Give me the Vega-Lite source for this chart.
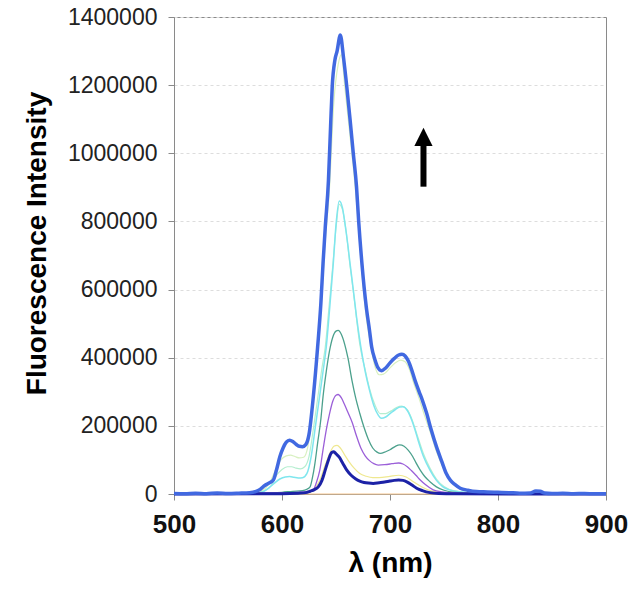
{
"$schema":"https://vega.github.io/schema/vega-lite/v6.json",
"width":432,"height":477,
"autosize":{"type":"none"},
"padding":{"left":174,"top":17,"right":26,"bottom":95},
"background":"white",
"config":{"view":{"stroke":"#8a8a8a","strokeWidth":1},"font":"Liberation Sans"},
"datasets":{
"curves":[
{"s":"s1","x":500,"y":0},{"s":"s1","x":580,"y":0},{"s":"s1","x":640,"y":0},{"s":"s1","x":700,"y":0},{"s":"s1","x":760,"y":0},{"s":"s1","x":900,"y":0},
{"s":"s2","x":500,"y":0},{"s":"s2","x":575,"y":3000},{"s":"s2","x":582,"y":10000},{"s":"s2","x":588,"y":30000},{"s":"s2","x":594,"y":70000},{"s":"s2","x":599,"y":100000},{"s":"s2","x":604,"y":112000},{"s":"s2","x":608,"y":114000},{"s":"s2","x":612,"y":110000},{"s":"s2","x":616,"y":106000},{"s":"s2","x":620,"y":108000},{"s":"s2","x":624,"y":140000},{"s":"s2","x":628,"y":250000},{"s":"s2","x":632,"y":400000},{"s":"s2","x":636,"y":540000},{"s":"s2","x":640,"y":740000},{"s":"s2","x":644,"y":900000},{"s":"s2","x":648,"y":1150000},{"s":"s2","x":652,"y":1260000},{"s":"s2","x":655,"y":1290000},{"s":"s2","x":658,"y":1200000},{"s":"s2","x":662,"y":1080000},{"s":"s2","x":666,"y":960000},{"s":"s2","x":670,"y":820000},{"s":"s2","x":674,"y":650000},{"s":"s2","x":678,"y":520000},{"s":"s2","x":682,"y":440000},{"s":"s2","x":686,"y":375000},{"s":"s2","x":690,"y":350000},{"s":"s2","x":694,"y":352000},{"s":"s2","x":700,"y":370000},{"s":"s2","x":705,"y":385000},{"s":"s2","x":710,"y":393000},{"s":"s2","x":714,"y":388000},{"s":"s2","x":718,"y":365000},{"s":"s2","x":722,"y":325000},{"s":"s2","x":727,"y":280000},{"s":"s2","x":732,"y":230000},{"s":"s2","x":738,"y":175000},{"s":"s2","x":743,"y":125000},{"s":"s2","x":748,"y":85000},{"s":"s2","x":753,"y":55000},{"s":"s2","x":760,"y":25000},{"s":"s2","x":770,"y":10000},{"s":"s2","x":790,"y":4000},{"s":"s2","x":900,"y":500},
{"s":"s3","x":500,"y":0},{"s":"s3","x":575,"y":2000},{"s":"s3","x":582,"y":7000},{"s":"s3","x":590,"y":25000},{"s":"s3","x":595,"y":55000},{"s":"s3","x":600,"y":72000},{"s":"s3","x":605,"y":80000},{"s":"s3","x":609,"y":80000},{"s":"s3","x":613,"y":76000},{"s":"s3","x":617,"y":74000},{"s":"s3","x":621,"y":80000},{"s":"s3","x":625,"y":110000},{"s":"s3","x":629,"y":190000},{"s":"s3","x":633,"y":280000},{"s":"s3","x":637,"y":370000},{"s":"s3","x":640,"y":430000},{"s":"s3","x":643,"y":530000},{"s":"s3","x":647,"y":670000},{"s":"s3","x":650,"y":780000},{"s":"s3","x":653,"y":850000},{"s":"s3","x":656,"y":835000},{"s":"s3","x":659,"y":780000},{"s":"s3","x":663,"y":670000},{"s":"s3","x":667,"y":570000},{"s":"s3","x":672,"y":440000},{"s":"s3","x":677,"y":365000},{"s":"s3","x":681,"y":310000},{"s":"s3","x":686,"y":262000},{"s":"s3","x":691,"y":236000},{"s":"s3","x":696,"y":236000},{"s":"s3","x":701,"y":244000},{"s":"s3","x":706,"y":254000},{"s":"s3","x":711,"y":258000},{"s":"s3","x":716,"y":248000},{"s":"s3","x":720,"y":222000},{"s":"s3","x":726,"y":165000},{"s":"s3","x":731,"y":118000},{"s":"s3","x":737,"y":76000},{"s":"s3","x":743,"y":44000},{"s":"s3","x":750,"y":22000},{"s":"s3","x":760,"y":9000},{"s":"s3","x":780,"y":3000},{"s":"s3","x":900,"y":500},
{"s":"s4","x":500,"y":0},{"s":"s4","x":610,"y":2000},{"s":"s4","x":625,"y":5000},{"s":"s4","x":630,"y":15000},{"s":"s4","x":635,"y":40000},{"s":"s4","x":640,"y":85000},{"s":"s4","x":645,"y":125000},{"s":"s4","x":648,"y":140000},{"s":"s4","x":651,"y":143000},{"s":"s4","x":654,"y":135000},{"s":"s4","x":658,"y":115000},{"s":"s4","x":662,"y":95000},{"s":"s4","x":667,"y":75000},{"s":"s4","x":672,"y":60000},{"s":"s4","x":678,"y":52000},{"s":"s4","x":684,"y":48000},{"s":"s4","x":690,"y":48000},{"s":"s4","x":700,"y":52000},{"s":"s4","x":708,"y":55000},{"s":"s4","x":715,"y":50000},{"s":"s4","x":722,"y":35000},{"s":"s4","x":730,"y":20000},{"s":"s4","x":738,"y":9000},{"s":"s4","x":750,"y":3000},{"s":"s4","x":900,"y":0},
{"s":"s5","x":500,"y":0},{"s":"s5","x":560,"y":500},{"s":"s5","x":575,"y":2000},{"s":"s5","x":582,"y":6000},{"s":"s5","x":588,"y":18000},{"s":"s5","x":593,"y":32000},{"s":"s5","x":598,"y":44000},{"s":"s5","x":603,"y":50000},{"s":"s5","x":607,"y":51000},{"s":"s5","x":611,"y":49000},{"s":"s5","x":615,"y":47000},{"s":"s5","x":619,"y":48000},{"s":"s5","x":623,"y":60000},{"s":"s5","x":627,"y":110000},{"s":"s5","x":631,"y":200000},{"s":"s5","x":635,"y":290000},{"s":"s5","x":638,"y":360000},{"s":"s5","x":641,"y":432000},{"s":"s5","x":644,"y":540000},{"s":"s5","x":647.5,"y":677000},{"s":"s5","x":650,"y":790000},{"s":"s5","x":653,"y":860000},{"s":"s5","x":656,"y":840000},{"s":"s5","x":658,"y":800000},{"s":"s5","x":661,"y":730000},{"s":"s5","x":663,"y":677000},{"s":"s5","x":666,"y":600000},{"s":"s5","x":669,"y":520000},{"s":"s5","x":673,"y":432000},{"s":"s5","x":677,"y":360000},{"s":"s5","x":681,"y":305000},{"s":"s5","x":685,"y":260000},{"s":"s5","x":689,"y":232000},{"s":"s5","x":692,"y":222000},{"s":"s5","x":696,"y":226000},{"s":"s5","x":700,"y":236000},{"s":"s5","x":705,"y":248000},{"s":"s5","x":709,"y":255000},{"s":"s5","x":712,"y":256000},{"s":"s5","x":716,"y":245000},{"s":"s5","x":720,"y":218000},{"s":"s5","x":723,"y":190000},{"s":"s5","x":726,"y":158000},{"s":"s5","x":731,"y":110000},{"s":"s5","x":737,"y":70000},{"s":"s5","x":743,"y":40000},{"s":"s5","x":749,"y":21000},{"s":"s5","x":755,"y":12000},{"s":"s5","x":765,"y":6000},{"s":"s5","x":780,"y":3000},{"s":"s5","x":800,"y":2000},{"s":"s5","x":830,"y":1000},{"s":"s5","x":900,"y":500},
{"s":"s6","x":500,"y":0},{"s":"s6","x":570,"y":1000},{"s":"s6","x":590,"y":3000},{"s":"s6","x":600,"y":5000},{"s":"s6","x":610,"y":8000},{"s":"s6","x":619,"y":10000},{"s":"s6","x":623,"y":14000},{"s":"s6","x":626,"y":21000},{"s":"s6","x":628,"y":45000},{"s":"s6","x":630.5,"y":90000},{"s":"s6","x":633,"y":150000},{"s":"s6","x":636,"y":220000},{"s":"s6","x":638,"y":286000},{"s":"s6","x":641,"y":360000},{"s":"s6","x":644,"y":420000},{"s":"s6","x":647,"y":460000},{"s":"s6","x":650,"y":478000},{"s":"s6","x":652,"y":480000},{"s":"s6","x":655,"y":468000},{"s":"s6","x":658,"y":440000},{"s":"s6","x":661,"y":400000},{"s":"s6","x":665,"y":330000},{"s":"s6","x":668,"y":285000},{"s":"s6","x":672,"y":237000},{"s":"s6","x":676,"y":195000},{"s":"s6","x":680,"y":160000},{"s":"s6","x":684,"y":135000},{"s":"s6","x":688,"y":123000},{"s":"s6","x":691,"y":119000},{"s":"s6","x":696,"y":124000},{"s":"s6","x":700,"y":130000},{"s":"s6","x":705,"y":140000},{"s":"s6","x":709,"y":144000},{"s":"s6","x":713,"y":140000},{"s":"s6","x":717,"y":128000},{"s":"s6","x":721,"y":110000},{"s":"s6","x":724,"y":92000},{"s":"s6","x":728,"y":70000},{"s":"s6","x":732,"y":52000},{"s":"s6","x":737,"y":36000},{"s":"s6","x":743,"y":21000},{"s":"s6","x":750,"y":11000},{"s":"s6","x":760,"y":5000},{"s":"s6","x":780,"y":2000},{"s":"s6","x":900,"y":500},
{"s":"s7","x":500,"y":0},{"s":"s7","x":600,"y":3000},{"s":"s7","x":615,"y":5000},{"s":"s7","x":625,"y":7000},{"s":"s7","x":629,"y":12000},{"s":"s7","x":632,"y":35000},{"s":"s7","x":635,"y":70000},{"s":"s7","x":638,"y":130000},{"s":"s7","x":641,"y":188000},{"s":"s7","x":644,"y":235000},{"s":"s7","x":647,"y":272000},{"s":"s7","x":650,"y":290000},{"s":"s7","x":652,"y":292000},{"s":"s7","x":655,"y":282000},{"s":"s7","x":658,"y":262000},{"s":"s7","x":661,"y":240000},{"s":"s7","x":665,"y":210000},{"s":"s7","x":669,"y":170000},{"s":"s7","x":673,"y":135000},{"s":"s7","x":677,"y":112000},{"s":"s7","x":681,"y":98000},{"s":"s7","x":685,"y":89000},{"s":"s7","x":689,"y":85000},{"s":"s7","x":695,"y":86000},{"s":"s7","x":700,"y":88000},{"s":"s7","x":704,"y":90000},{"s":"s7","x":708,"y":91000},{"s":"s7","x":712,"y":88000},{"s":"s7","x":716,"y":80000},{"s":"s7","x":720,"y":68000},{"s":"s7","x":724,"y":55000},{"s":"s7","x":728,"y":41000},{"s":"s7","x":733,"y":27000},{"s":"s7","x":740,"y":12000},{"s":"s7","x":748,"y":6000},{"s":"s7","x":760,"y":3000},{"s":"s7","x":800,"y":1000},{"s":"s7","x":900,"y":0},
{"s":"s8","x":500,"y":0},{"s":"s8","x":600,"y":1000},{"s":"s8","x":615,"y":2500},{"s":"s8","x":622,"y":4000},{"s":"s8","x":626,"y":8000},{"s":"s8","x":630,"y":13000},{"s":"s8","x":633.6,"y":21000},{"s":"s8","x":637,"y":40000},{"s":"s8","x":640,"y":70000},{"s":"s8","x":643,"y":100000},{"s":"s8","x":646,"y":122000},{"s":"s8","x":648,"y":124000},{"s":"s8","x":650,"y":118000},{"s":"s8","x":653,"y":108000},{"s":"s8","x":656,"y":92000},{"s":"s8","x":660,"y":70000},{"s":"s8","x":664,"y":55000},{"s":"s8","x":668,"y":45000},{"s":"s8","x":672,"y":38000},{"s":"s8","x":676,"y":34000},{"s":"s8","x":680,"y":32000},{"s":"s8","x":684.5,"y":31000},{"s":"s8","x":690,"y":33000},{"s":"s8","x":695,"y":35000},{"s":"s8","x":700,"y":38000},{"s":"s8","x":704,"y":40000},{"s":"s8","x":708,"y":41000},{"s":"s8","x":712,"y":40000},{"s":"s8","x":716,"y":35000},{"s":"s8","x":720,"y":27000},{"s":"s8","x":724.7,"y":17000},{"s":"s8","x":730,"y":10000},{"s":"s8","x":737,"y":4000},{"s":"s8","x":745,"y":1500},{"s":"s8","x":760,"y":500},{"s":"s8","x":900,"y":0},
{"s":"s9","x":500,"y":1500},{"s":"s9","x":510,"y":500},{"s":"s9","x":520,"y":2500},{"s":"s9","x":530,"y":1000},{"s":"s9","x":540,"y":3000},{"s":"s9","x":550,"y":1500},{"s":"s9","x":560,"y":2500},{"s":"s9","x":570,"y":4000},{"s":"s9","x":576,"y":8000},{"s":"s9","x":580,"y":14000},{"s":"s9","x":584,"y":25000},{"s":"s9","x":588,"y":32000},{"s":"s9","x":592,"y":41000},{"s":"s9","x":595,"y":72000},{"s":"s9","x":598,"y":109000},{"s":"s9","x":601,"y":135000},{"s":"s9","x":604,"y":152000},{"s":"s9","x":607,"y":158000},{"s":"s9","x":610,"y":154000},{"s":"s9","x":613,"y":146000},{"s":"s9","x":616,"y":140000},{"s":"s9","x":619,"y":139000},{"s":"s9","x":622,"y":145000},{"s":"s9","x":625,"y":175000},{"s":"s9","x":629,"y":286000},{"s":"s9","x":633,"y":432000},{"s":"s9","x":636,"y":560000},{"s":"s9","x":638,"y":677000},{"s":"s9","x":640,"y":780000},{"s":"s9","x":643,"y":920000},{"s":"s9","x":645,"y":1080000},{"s":"s9","x":646.5,"y":1195000},{"s":"s9","x":649,"y":1274000},{"s":"s9","x":651,"y":1300000},{"s":"s9","x":654,"y":1347000},{"s":"s9","x":657,"y":1280000},{"s":"s9","x":660,"y":1195000},{"s":"s9","x":663,"y":1100000},{"s":"s9","x":666,"y":1000000},{"s":"s9","x":669,"y":902000},{"s":"s9","x":671,"y":800000},{"s":"s9","x":674,"y":677000},{"s":"s9","x":678,"y":550000},{"s":"s9","x":681,"y":481000},{"s":"s9","x":683,"y":432000},{"s":"s9","x":686,"y":395000},{"s":"s9","x":689,"y":370000},{"s":"s9","x":692,"y":362000},{"s":"s9","x":696,"y":370000},{"s":"s9","x":700,"y":385000},{"s":"s9","x":704,"y":398000},{"s":"s9","x":708,"y":408000},{"s":"s9","x":711,"y":410000},{"s":"s9","x":714,"y":405000},{"s":"s9","x":717,"y":390000},{"s":"s9","x":720,"y":365000},{"s":"s9","x":723,"y":335000},{"s":"s9","x":727,"y":300000},{"s":"s9","x":730,"y":275000},{"s":"s9","x":734,"y":236000},{"s":"s9","x":738,"y":190000},{"s":"s9","x":743,"y":139000},{"s":"s9","x":748,"y":95000},{"s":"s9","x":752,"y":61000},{"s":"s9","x":756,"y":40000},{"s":"s9","x":760,"y":28000},{"s":"s9","x":765,"y":17000},{"s":"s9","x":772,"y":11000},{"s":"s9","x":780,"y":7000},{"s":"s9","x":790,"y":6000},{"s":"s9","x":800,"y":5000},{"s":"s9","x":810,"y":4000},{"s":"s9","x":820,"y":2500},{"s":"s9","x":830,"y":3000},{"s":"s9","x":835,"y":9000},{"s":"s9","x":839,"y":8000},{"s":"s9","x":843,"y":3000},{"s":"s9","x":850,"y":1500},{"s":"s9","x":860,"y":2000},{"s":"s9","x":870,"y":1000},{"s":"s9","x":880,"y":1500},{"s":"s9","x":890,"y":500},{"s":"s9","x":900,"y":1000}
],
"arrow":[{"x":731,"y0":902000,"y1":1030000,"yh":1048000}]
},
"layer":[
{"data":{"name":"curves"},
"mark":{"type":"line","interpolate":"monotone"},
"encoding":{
"x":{"field":"x","type":"quantitative","scale":{"domain":[500,900],"nice":false},
"axis":{"values":[500,600,700,800,900],"grid":false,"labelFlush":false,"labelOverlap":false,"title":"λ (nm)","titleFontSize":28,"titleFontWeight":"bold","titleColor":"#000","titlePadding":12,"labelFontSize":26,"labelFontWeight":"bold","labelColor":"#111","labelPadding":11,"tickSize":6,"tickColor":"#8a8a8a","domainColor":"#8a8a8a"}},
"y":{"field":"y","type":"quantitative","scale":{"domain":[0,1400000],"nice":false},
"axis":{"values":[0,200000,400000,600000,800000,1000000,1200000,1400000],"format":"d","grid":true,"gridDash":[3,3],"gridColor":"#dddddd","labelFlush":false,"title":"Fluorescence Intensity","titleFontSize":28,"titleFontWeight":"bold","titleColor":"#000","titlePadding":16,"titleY":226,"labelFontSize":23,"labelColor":"#222","labelPadding":11,"tickSize":6,"tickColor":"#8a8a8a","domainColor":"#8a8a8a"}},
"color":{"field":"s","type":"nominal","legend":null,"scale":{"domain":["s1","s2","s3","s4","s5","s6","s7","s8","s9"],"range":["#F5C58E","#D8F0C0","#B5EED0","#EFE890","#7FE6EE","#4BA08C","#9B5FD8","#1C22A6","#4169E1"]}},
"strokeWidth":{"field":"s","type":"nominal","legend":null,"scale":{"type":"ordinal","domain":["s1","s2","s3","s4","s5","s6","s7","s8","s9"],"range":[1.2,1.2,1.2,1.2,1.5,1.3,1.3,3,3.5]}}
}},
{"data":{"name":"arrow"},"mark":{"type":"rule","color":"black","strokeWidth":6},
"encoding":{"x":{"field":"x","type":"quantitative"},"y":{"field":"y0","type":"quantitative"},"y2":{"field":"y1"}}},
{"data":{"name":"arrow"},"mark":{"type":"point","shape":"M-1,1L0,-1L1,1Z","filled":true,"color":"black","size":330,"opacity":1},
"encoding":{"x":{"field":"x","type":"quantitative"},"y":{"field":"yh","type":"quantitative"}}}
]
}
